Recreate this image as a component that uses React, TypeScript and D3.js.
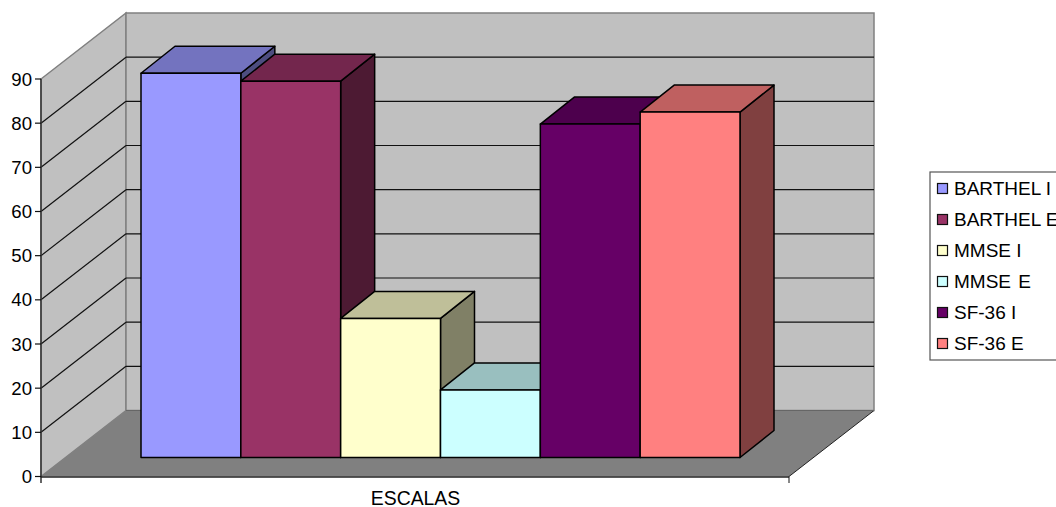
import React from "react";
import * as d3 from "d3";

const seriesNames = ["BARTHEL I", "BARTHEL E", "MMSE I", "MMSE E", "SF-36 I", "SF-36 E"];
const seriesValues = [87, 85.2, 31.5, 15.3, 75.5, 78.2];
const seriesColors = ["#9999FF", "#993366", "#FFFFCC", "#CCFFFF", "#660066", "#FF8080"];
const tickValues = [0, 10, 20, 30, 40, 50, 60, 70, 80, 90];
const categoryLabel = "ESCALAS";

const FONT = "'Liberation Sans', Arial, sans-serif";
const frontX0 = 41, frontX1 = 789;
const wallDx = 85, wallDy = -66;
const barDx = 34, barDy = -27;

const yFront = d3.scaleLinear().domain([0, 90]).range([476.5, 79]);
const barX = d3.scaleBand<number>().domain(d3.range(seriesValues.length)).range([141, 740]);
const barBase = 457.5;
const barH = (v: number) => yFront(0) - yFront(v);

const pts = (p: number[][]) => p.map((q) => q.join(",")).join(" ");
const shade = (c: string, k: number) => {
  const r = d3.rgb(c);
  return d3.rgb(r.r * k, r.g * k, r.b * k).formatHex();
};

export default function App() {
  const y0 = yFront(0), y90 = yFront(90);
  return (
    <svg width={1056} height={507} style={{ position: "absolute", left: 0, top: 0, background: "#fff" }} fontFamily={FONT}>
      {/* walls */}
      <polygon points={pts([[frontX0, y90], [frontX0 + wallDx, y90 + wallDy], [frontX0 + wallDx, y0 + wallDy], [frontX0, y0]])} fill="#C0C0C0" stroke="#808080" strokeWidth={1.5} />
      <polygon points={pts([[frontX0 + wallDx, y90 + wallDy], [frontX1 + wallDx, y90 + wallDy], [frontX1 + wallDx, y0 + wallDy], [frontX0 + wallDx, y0 + wallDy]])} fill="#C0C0C0" stroke="#808080" strokeWidth={1.5} />
      {/* floor */}
      <polygon points={pts([[frontX0, y0], [frontX0 + wallDx, y0 + wallDy], [frontX1 + wallDx, y0 + wallDy], [frontX1, y0]])} fill="#808080" />
      <line x1={frontX1} y1={y0} x2={frontX1 + wallDx} y2={y0 + wallDy} stroke="#222" strokeWidth={1} />
      {/* gridlines */}
      {tickValues.slice(1, -1).map((t) => (
        <g key={t} stroke="#111" strokeWidth={1.2}>
          <line x1={frontX0} y1={yFront(t)} x2={frontX0 + wallDx} y2={yFront(t) + wallDy} />
          <line x1={frontX0 + wallDx} y1={yFront(t) + wallDy} x2={frontX1 + wallDx} y2={yFront(t) + wallDy} />
        </g>
      ))}
      <line x1={frontX0 + wallDx} y1={y0 + wallDy} x2={frontX1 + wallDx} y2={y0 + wallDy} stroke="#666" strokeWidth={1.2} />
      {/* bars */}
      {seriesValues.map((v, i) => {
        const x = barX(i)!, w = barX.bandwidth(), h = barH(v), top = barBase - h, c = seriesColors[i];
        return (
          <g key={i} stroke="#000" strokeWidth={1.5} strokeLinejoin="round">
            <polygon points={pts([[x + w, top], [x + w + barDx, top + barDy], [x + w + barDx, barBase + barDy], [x + w, barBase]])} fill={shade(c, 0.5)} />
            <polygon points={pts([[x, top], [x + barDx, top + barDy], [x + w + barDx, top + barDy], [x + w, top]])} fill={shade(c, 0.75)} />
            <rect x={x} y={top} width={w} height={h} fill={c} />
          </g>
        );
      })}
      {/* axes */}
      <line x1={frontX0} y1={y90} x2={frontX0} y2={483} stroke="#333" strokeWidth={1.5} />
      <line x1={frontX0} y1={y0 + 0.5} x2={frontX1} y2={y0 + 0.5} stroke="#222" strokeWidth={1.5} />
      <line x1={frontX1} y1={y0} x2={frontX1} y2={483} stroke="#111" strokeWidth={1} />
      {tickValues.map((t) => (
        <g key={t}>
          <line x1={35} y1={yFront(t)} x2={frontX0} y2={yFront(t)} stroke="#111" strokeWidth={1.2} />
          <text x={32} y={yFront(t) + 6.5} textAnchor="end" fontSize={18.6} fill="#000">{t}</text>
        </g>
      ))}
      <text x={415.5} y={505} textAnchor="middle" fontSize={19.4} fill="#000">{categoryLabel}</text>
      {/* legend */}
      <rect x={930} y={172} width={140} height={188} fill="#fff" stroke="#555" strokeWidth={1.2} />
      {seriesNames.map((n, i) => {
        const cy = 188 + i * 31;
        return (
          <g key={n}>
            <rect x={937.5} y={cy - 4.5} width={10} height={10} fill={seriesColors[i]} stroke="#111" strokeWidth={1.2} />
            <text x={954} y={cy + 6.8} fontSize={19} fill="#000" wordSpacing={n === "MMSE E" ? 2 : 0}>{n}</text>
          </g>
        );
      })}
    </svg>
  );
}
